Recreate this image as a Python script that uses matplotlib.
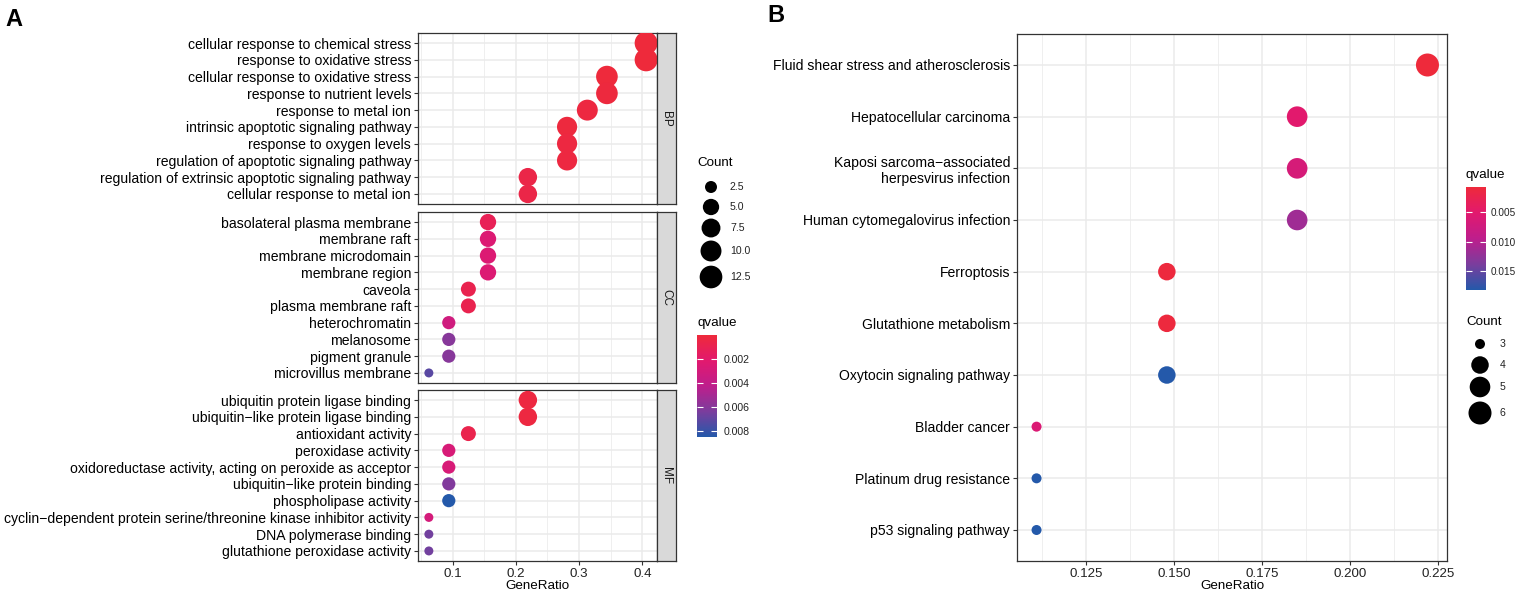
import numpy as np
import matplotlib
matplotlib.use("Agg")
import matplotlib.pyplot as plt
from matplotlib.colors import LinearSegmentedColormap, Normalize
from matplotlib.cm import ScalarMappable

plt.rcParams['font.family'] = ['Liberation Sans', 'DejaVu Sans']

M = "\u2212"

# ---------------- data: panel A (GO) ----------------
bp_terms = ["cellular response to chemical stress", "response to oxidative stress",
            "cellular response to oxidative stress", "response to nutrient levels",
            "response to metal ion", "intrinsic apoptotic signaling pathway",
            "response to oxygen levels", "regulation of apoptotic signaling pathway",
            "regulation of extrinsic apoptotic signaling pathway", "cellular response to metal ion"]
bp_ratio = [0.406, 0.406, 0.344, 0.344, 0.313, 0.281, 0.281, 0.281, 0.219, 0.219]
bp_count = [13, 13, 11, 11, 10, 9, 9, 9, 7, 7]
bp_q = [0.00005, 0.00005, 0.0001, 0.0002, 0.0003, 0.0002, 0.0003, 0.0003, 0.0006, 0.0006]

cc_terms = ["basolateral plasma membrane", "membrane raft", "membrane microdomain",
            "membrane region", "caveola", "plasma membrane raft", "heterochromatin",
            "melanosome", "pigment granule", "microvillus membrane"]
cc_ratio = [0.156, 0.156, 0.156, 0.156, 0.125, 0.125, 0.094, 0.094, 0.094, 0.0625]
cc_count = [5, 5, 5, 5, 4, 4, 3, 3, 3, 2]
cc_q = [0.0012, 0.0025, 0.0025, 0.0025, 0.0009, 0.0009, 0.0033, 0.0060, 0.0060, 0.0072]

mf_terms = ["ubiquitin protein ligase binding", "ubiquitin" + M + "like protein ligase binding",
            "antioxidant activity", "peroxidase activity",
            "oxidoreductase activity, acting on peroxide as acceptor",
            "ubiquitin" + M + "like protein binding", "phospholipase activity",
            "cyclin" + M + "dependent protein serine/threonine kinase inhibitor activity",
            "DNA polymerase binding", "glutathione peroxidase activity"]
mf_ratio = [0.219, 0.219, 0.125, 0.094, 0.094, 0.094, 0.094, 0.0625, 0.0625, 0.0625]
mf_count = [7, 7, 4, 3, 3, 3, 3, 2, 2, 2]
mf_q = [0.0003, 0.0003, 0.0008, 0.0028, 0.0028, 0.0062, 0.0085, 0.0030, 0.0066, 0.0066]

facet_names = ["BP", "CC", "MF"]
a_xticks = [0.1, 0.2, 0.3, 0.4]
a_count_legend = [2.5, 5.0, 7.5, 10.0, 12.5]
a_q_ticks = [0.002, 0.004, 0.006, 0.008]

# ---------------- data: panel B (KEGG) ----------------
kegg_terms = ["Fluid shear stress and atherosclerosis", "Hepatocellular carcinoma",
              "Kaposi sarcoma" + M + "associated\nherpesvirus infection",
              "Human cytomegalovirus infection", "Ferroptosis", "Glutathione metabolism",
              "Oxytocin signaling pathway", "Bladder cancer", "Platinum drug resistance",
              "p53 signaling pathway"]
kegg_ratio = [0.222, 0.185, 0.185, 0.185, 0.148, 0.148, 0.148, 0.111, 0.111, 0.111]
kegg_count = [6, 5, 5, 5, 4, 4, 4, 3, 3, 3]
kegg_q = [0.0007, 0.0050, 0.0066, 0.0115, 0.0010, 0.0010, 0.0182, 0.0060, 0.0182, 0.0182]
b_xticks = [0.125, 0.150, 0.175, 0.200, 0.225]
b_count_legend = [3, 4, 5, 6]
b_q_ticks = [0.005, 0.010, 0.015]

# ---------------- figure ----------------
W, H = 1519, 594
DPI = 100
fig = plt.figure(figsize=(W / DPI, H / DPI), dpi=DPI)
PX = 72.0 / DPI  # points per pixel

def rect(x0, y0, x1, y1):
    return [x0 / W, 1 - y1 / H, (x1 - x0) / W, (y1 - y0) / H]

cmap = LinearSegmentedColormap.from_list(
    'q', ['#EE2A3B', '#E2196E', '#BE1E8C', '#7B3D9D', '#2459AA'])

GRID = '#EBEBEB'
DARK = '#333333'
FS = 10.1
LFS = 7.6

def size_a(c):
    c = np.asarray(c, float)
    d = 9 + 14 * np.sqrt((c - 2) / 11.0)
    return (d * PX) ** 2

def size_b(c):
    c = np.asarray(c, float)
    d = 10 + 13 * np.sqrt((c - 3) / 3.0)
    return (d * PX) ** 2

def expanded(vals):
    lo, hi = min(vals), max(vals)
    e = 0.05 * (hi - lo)
    return lo - e, hi + e

def style(ax, xlim, majors):
    ax.set_xlim(xlim)
    ax.set_xticks(majors)
    step = majors[1] - majors[0]
    minors = [m - step / 2 for m in majors] + [majors[-1] + step / 2]
    ax.set_xticks([m for m in minors if xlim[0] < m < xlim[1]], minor=True)
    ax.grid(which='major', color=GRID, lw=1.1)
    ax.grid(which='minor', axis='x', color=GRID, lw=0.55)
    ax.set_axisbelow(True)
    for sp in ax.spines.values():
        sp.set_color(DARK)
        sp.set_linewidth(0.9)
    ax.tick_params(which='major', length=3, width=0.8, color=DARK,
                   labelsize=FS, labelcolor='black', pad=2)
    ax.tick_params(which='minor', length=0)

# ---- panel A ----
a_all_ratio = bp_ratio + cc_ratio + mf_ratio
a_all_q = bp_q + cc_q + mf_q
a_xlim = expanded(a_all_ratio)
a_norm = Normalize(min(a_all_q), max(a_all_q))

facets = [(bp_terms, bp_ratio, bp_count, bp_q),
          (cc_terms, cc_ratio, cc_count, cc_q),
          (mf_terms, mf_ratio, mf_count, mf_q)]
panel_y = [(33, 204), (212, 383), (390, 561)]
for i, ((terms, ratio, count, q), (y0, y1), name) in enumerate(zip(facets, panel_y, facet_names)):
    ax = fig.add_axes(rect(418, y0, 657, y1))
    ypos = np.arange(len(terms))
    ax.scatter(ratio, ypos, s=size_a(count), c=q, cmap=cmap, norm=a_norm,
               edgecolors='none', zorder=3)
    ax.set_ylim(len(terms) - 1 + 0.6, -0.6)
    ax.set_yticks(ypos)
    ax.set_yticklabels(terms)
    style(ax, a_xlim, a_xticks)
    if i < 2:
        ax.tick_params(axis='x', which='both', bottom=False, labelbottom=False)
    else:
        ax.set_xticklabels([f"{v:.1f}" for v in a_xticks])
        ax.tick_params(axis='x', labelcolor='#222222', labelsize=9.6)
        ax.set_xlabel("GeneRatio", fontsize=9.6, labelpad=0)
    sax = fig.add_axes(rect(657, y0, 676, y1))
    sax.set_facecolor('#D9D9D9')
    sax.set_xticks([]); sax.set_yticks([])
    for sp in sax.spines.values():
        sp.set_color(DARK); sp.set_linewidth(0.9)
    sax.text(0.5, 0.5, name, rotation=-90, ha='center', va='center',
             fontsize=8.5, color='#1A1A1A', transform=sax.transAxes)

# ---- panel A legends ----
lax = fig.add_axes(rect(680, 140, 780, 300))
lax.set_xlim(680, 780); lax.set_ylim(300, 140); lax.axis('off')
lax.text(697, 163, "Count", fontsize=9.6, va='center', ha='left')
a_key_y = [187, 207, 228, 251, 277]
lax.scatter([711] * len(a_count_legend), a_key_y, s=size_a(a_count_legend),
            color='black', edgecolors='none', clip_on=False)
for v, yy in zip(a_count_legend, a_key_y):
    lax.text(730, yy, f"{v:.1f}", fontsize=LFS, va='center', ha='left', color='#222222')
fig.text(697 / W, 1 - 323 / H, "qvalue", fontsize=9.6, va='center', ha='left')
cax = fig.add_axes(rect(697, 335, 717, 437))
cb = fig.colorbar(ScalarMappable(norm=a_norm, cmap=cmap), cax=cax, ticks=a_q_ticks)
cb.outline.set_visible(False)
cax.invert_yaxis()
cax.set_yticklabels([f"{v:.3f}" for v in a_q_ticks])
cax.tick_params(axis='y', direction='in', length=4, width=0.8, color='white',
                left=True, right=True, labelleft=False, labelright=True,
                labelsize=LFS, labelcolor='#222222', pad=5)

# ---- panel B ----
bx = fig.add_axes(rect(1017, 34, 1447, 561))
ypos = np.arange(len(kegg_terms))
b_norm = Normalize(min(kegg_q), max(kegg_q))
bx.scatter(kegg_ratio, ypos, s=size_b(kegg_count), c=kegg_q, cmap=cmap, norm=b_norm,
           edgecolors='none', zorder=3)
bx.set_ylim(len(kegg_terms) - 1 + 0.6, -0.6)
bx.set_yticks(ypos)
bx.set_yticklabels(kegg_terms, ha='right')
style(bx, expanded(kegg_ratio), b_xticks)
bx.set_xticklabels([f"{v:.3f}" for v in b_xticks])
bx.tick_params(axis='x', labelcolor='#222222', labelsize=9.6)
bx.set_xlabel("GeneRatio", fontsize=9.6, labelpad=0)

# ---- panel B legends ----
fig.text(1466 / W, 1 - 175 / H, "qvalue", fontsize=9.6, va='center', ha='left')
cbx = fig.add_axes(rect(1466, 187, 1486, 290))
cb2 = fig.colorbar(ScalarMappable(norm=b_norm, cmap=cmap), cax=cbx, ticks=b_q_ticks)
cb2.outline.set_visible(False)
cbx.invert_yaxis()
cbx.set_yticklabels([f"{v:.3f}" for v in b_q_ticks])
cbx.tick_params(axis='y', direction='in', length=4, width=0.8, color='white',
                left=True, right=True, labelleft=False, labelright=True,
                labelsize=7.2, labelcolor='#222222', pad=3)
lbx = fig.add_axes(rect(1460, 300, 1519, 430))
lbx.set_xlim(1460, 1519); lbx.set_ylim(430, 300); lbx.axis('off')
lbx.text(1466, 322, "Count", fontsize=9.6, va='center', ha='left')
b_key_y = [344, 365, 387, 413]
lbx.scatter([1480] * len(b_count_legend), b_key_y, s=size_b(b_count_legend),
            color='black', edgecolors='none', clip_on=False)
for v, yy in zip(b_count_legend, b_key_y):
    lbx.text(1500, yy, f"{v}", fontsize=LFS, va='center', ha='left', color='#222222')

# panel letters
fig.text(14 / W, 1 - 20 / H, "A", fontsize=17, fontweight='bold', ha='center', va='center')
fig.text(776 / W, 1 - 16 / H, "B", fontsize=17, fontweight='bold', ha='center', va='center')

fig.savefig("out.png", dpi=DPI)
